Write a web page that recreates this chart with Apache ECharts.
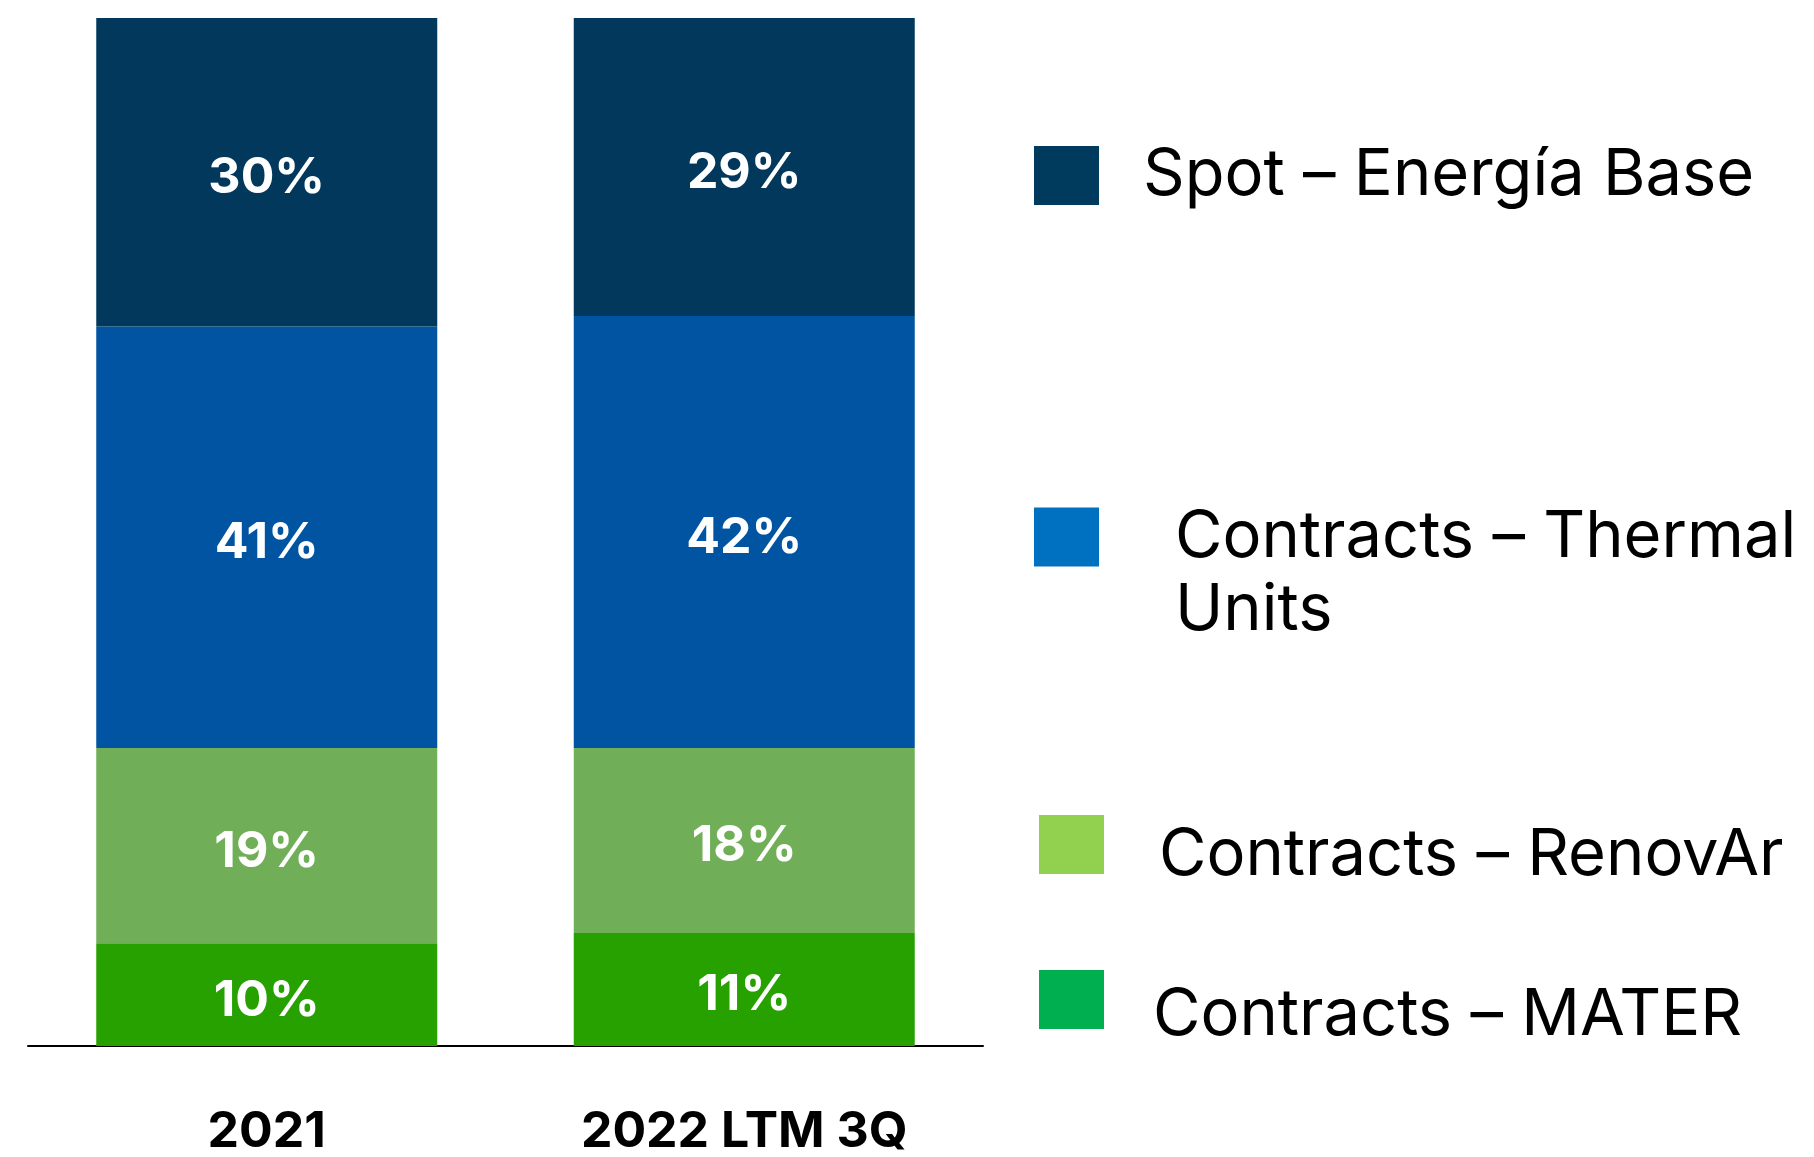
<!DOCTYPE html>
<html>
<head>
<meta charset="utf-8">
<script src="https://cdn.jsdelivr.net/npm/echarts@6/dist/echarts.min.js"></script>
<style>
  html, body { margin: 0; padding: 0; background: #fff; }
  #chart { width: 1814px; height: 1157px; }
</style>
</head>
<body>
<div id="chart"></div>
<script>
// data
const categories = ['2021', '2022 LTM 3Q']
const mater = [10, 11]
const renovar = [19, 18]
const thermal = [41, 42]
const spot = [30, 29]

const FONT = 'Inter, "Noto Sans", sans-serif'

const chart = echarts.init(document.getElementById('chart'))

const barLabel = {
  show: true,
  position: 'inside',
  offset: [0, 6],
  formatter: '{c}%',
  color: '#fff',
  fontFamily: FONT,
  fontWeight: 'bold',
  fontSize: 50
}

function makeSeries (name, data, color) {
  return {
    name: name,
    type: 'bar',
    stack: 'total',
    barWidth: 341,
    data: data,
    itemStyle: { color: color },
    label: barLabel,
    emphasis: { disabled: true }
  }
}

// each legend entry is placed on its own, like in the slide.
// 'push' is a blank first line that nudges the text down against the icon
function makeLegend (name, color, left, top, padLeft, push) {
  return {
    data: [{ name: name, itemStyle: { color: color } }],
    left: left,
    top: top,
    padding: 0,
    icon: 'rect',
    itemWidth: 65,
    itemHeight: 59,
    selectedMode: false,
    formatter: function (n) {
      const lines = n.replace(' Units', '\nUnits').split('\n')
      let s = lines.map(l => '{t|' + l + '}').join('\n')
      if (push) s = '{p| }\n' + s
      return s
    },
    textStyle: {
      padding: [0, 0, 0, padLeft],
      rich: {
        t: {
          fontFamily: FONT,
          fontSize: 65,
          color: '#000',
          lineHeight: 73
        },
        p: {
          fontSize: 10,
          lineHeight: push
        }
      }
    }
  }
}

chart.setOption({
  animation: false,
  backgroundColor: '#fff',
  grid: {
    left: 28,
    right: 831,
    top: 18,
    bottom: 109,
    containLabel: false
  },
  legend: [
    makeLegend('Spot – Energía Base', '#003a5c', 1034, 143, 39, 0),
    makeLegend('Contracts – Thermal Units', '#0070c0', 1034, 459, 71, 73),
    makeLegend('Contracts – RenovAr', '#92d050', 1039, 803, 50, 22),
    makeLegend('Contracts – MATER', '#00b050', 1039, 958, 44, 31)
  ],
  xAxis: {
    type: 'category',
    data: categories,
    axisTick: { show: false },
    axisLine: { lineStyle: { color: '#000', width: 2 } },
    axisLabel: {
      margin: 61,
      color: '#000',
      fontFamily: FONT,
      fontWeight: 'bold',
      fontSize: 50
    }
  },
  yAxis: {
    type: 'value',
    min: 0,
    max: 100,
    show: false
  },
  series: [
    makeSeries('Contracts – MATER', mater, '#26a100'),
    makeSeries('Contracts – RenovAr', renovar, '#70ae57'),
    makeSeries('Contracts – Thermal Units', thermal, '#0054a2'),
    makeSeries('Spot – Energía Base', spot, '#02385b')
  ]
})
</script>
</body>
</html>
